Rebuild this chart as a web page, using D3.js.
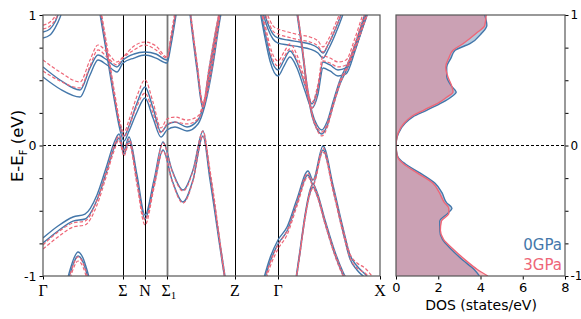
<!DOCTYPE html>
<html><head><meta charset="utf-8">
<script src="https://cdn.jsdelivr.net/npm/d3@7"></script>
<style>body{margin:0;background:#fff}</style>
</head><body>
<svg width="581" height="319"></svg>
<script>
// high-symmetry path
const kLabels = ["Γ", "Σ", "N", "Σ1", "Z", "Γ", "X"];
const kPos = [0, 0.80, 1.02, 1.24, 1.92, 2.35, 3.37];

// each row: [k, blue line 1, blue line 2, red line 1, red line 2]  (eV)
const band1 = [
  [0.00, 0.870, 0.824, 0.923, 0.893], [0.07, 0.893, 0.847, 0.946, 0.916],
  [0.12, 0.946, 0.900, 0.990, 0.960], [0.17, 1.040, 0.980, 1.077, 1.040],
  [0.21, 1.115, 1.077, 1.120, 1.100]
];
const band2 = [
  [0.00, 0.602, 0.525, 0.655, 0.571], [0.17, 0.502, 0.433, 0.563, 0.494],
  [0.37, 0.425, 0.372, 0.487, 0.441], [0.47, 0.594, 0.540, 0.655, 0.609],
  [0.55, 0.693, 0.655, 0.770, 0.732], [0.64, 0.655, 0.617, 0.716, 0.678],
  [0.74, 0.602, 0.563, 0.640, 0.617], [0.80, 0.655, 0.632, 0.678, 0.670],
  [0.91, 0.701, 0.670, 0.762, 0.732], [1.02, 0.716, 0.693, 0.793, 0.770],
  [1.13, 0.701, 0.670, 0.762, 0.732], [1.24, 0.655, 0.632, 0.678, 0.670],
  [1.28, 0.808, 0.770, 0.847, 0.808], [1.33, 1.040, 1.000, 1.077, 1.040]
];
const band3 = [
  [0.57, 1.038, 1.008, 1.077, 1.046], [0.60, 0.900, 0.870, 0.946, 0.908],
  [0.66, 0.625, 0.594, 0.670, 0.632], [0.72, 0.349, 0.318, 0.387, 0.349],
  [0.77, 0.149, 0.119, 0.180, 0.149], [0.81, 0.073, 0.034, 0.103, 0.065],
  [0.86, 0.149, 0.111, 0.195, 0.149], [0.94, 0.326, 0.257, 0.379, 0.303],
  [1.02, 0.448, 0.364, 0.502, 0.402], [1.10, 0.287, 0.211, 0.333, 0.249],
  [1.18, 0.103, 0.065, 0.134, 0.096], [1.24, 0.157, 0.119, 0.203, 0.165],
  [1.32, 0.180, 0.142, 0.218, 0.180], [1.44, 0.142, 0.111, 0.195, 0.165],
  [1.55, 0.195, 0.165, 0.226, 0.203], [1.62, 0.349, 0.310, 0.372, 0.333],
  [1.70, 0.655, 0.617, 0.678, 0.640], [1.76, 0.962, 0.923, 0.985, 0.946],
  [1.80, 1.115, 1.092, 1.138, 1.115]
];
const band4 = [
  [0.00, -0.709, -0.747, -0.762, -0.793], [0.15, -0.617, -0.655, -0.663, -0.701],
  [0.30, -0.548, -0.579, -0.594, -0.625], [0.42, -0.525, -0.563, -0.579, -0.609],
  [0.54, -0.379, -0.418, -0.418, -0.456], [0.64, -0.149, -0.188, -0.180, -0.218],
  [0.71, 0.019, -0.019, -0.004, -0.042], [0.76, 0.088, 0.057, 0.073, 0.042],
  [0.81, -0.034, -0.065, -0.050, -0.080], [0.86, 0.065, 0.034, 0.050, 0.019],
  [0.94, -0.226, -0.264, -0.264, -0.303], [1.02, -0.533, -0.563, -0.571, -0.609],
  [1.11, -0.264, -0.303, -0.287, -0.326], [1.20, 0.027, -0.034, 0.019, -0.042],
  [1.29, -0.188, -0.264, -0.195, -0.272], [1.40, -0.341, -0.433, -0.349, -0.441],
  [1.50, -0.188, -0.264, -0.195, -0.272], [1.60, 0.111, 0.073, 0.111, 0.073],
  [1.67, -0.226, -0.264, -0.188, -0.226], [1.82, -1.000, -1.031, -1.000, -1.031],
  [1.86, -1.184, -1.215, -1.184, -1.215]
];
const band5 = [
  [1.47, 1.038, 1.008, 1.054, 1.023], [1.54, 0.617, 0.579, 0.640, 0.602],
  [1.60, 0.310, 0.280, 0.326, 0.295], [1.66, 0.579, 0.540, 0.594, 0.563],
  [1.74, 0.923, 0.885, 0.939, 0.908], [1.78, 1.077, 1.038, 1.092, 1.061]
];
const band6 = [
  [0.23, -1.069, -1.100, -1.107, -1.138], [0.27, -0.954, -0.985, -0.992, -1.023],
  [0.31, -0.862, -0.893, -0.900, -0.931], [0.35, -0.816, -0.847, -0.854, -0.885],
  [0.40, -0.862, -0.893, -0.900, -0.931], [0.44, -0.954, -0.985, -0.992, -1.023],
  [0.48, -1.069, -1.100, -1.107, -1.138]
];
const band7 = [
  [2.19, -1.069, -1.100, -1.107, -1.138], [2.27, -0.862, -0.893, -0.900, -0.931],
  [2.35, -0.724, -0.755, -0.762, -0.793], [2.44, -0.625, -0.655, -0.655, -0.686],
  [2.54, -0.410, -0.441, -0.433, -0.464], [2.65, -0.195, -0.226, -0.211, -0.241],
  [2.70, -0.264, -0.295, -0.272, -0.303], [2.80, -0.004, -0.034, -0.019, -0.050],
  [2.90, -0.303, -0.333, -0.318, -0.349], [3.00, -0.632, -0.663, -0.640, -0.671],
  [3.07, -0.839, -0.870, -0.831, -0.862], [3.14, -0.923, -0.954, -0.900, -0.939],
  [3.22, -0.985, -1.015, -0.939, -0.977], [3.29, -1.046, -1.077, -1.000, -1.031]
];
const band8 = [
  [2.52, -1.069, -1.092, -1.077, -1.100], [2.57, -0.801, -0.824, -0.808, -0.831],
  [2.62, -0.533, -0.556, -0.540, -0.563], [2.67, -0.341, -0.364, -0.349, -0.372],
  [2.70, -0.295, -0.318, -0.303, -0.326], [2.74, -0.356, -0.379, -0.364, -0.387],
  [2.82, -0.571, -0.594, -0.579, -0.602], [2.92, -0.816, -0.839, -0.824, -0.847],
  [3.00, -0.969, -0.992, -0.977, -1.000], [3.07, -1.069, -1.092, -1.077, -1.100]
];
const band9 = [
  [2.19, 1.077, 1.038, 1.115, 1.077], [2.25, 0.931, 0.893, 0.992, 0.954],
  [2.30, 0.854, 0.816, 0.916, 0.877], [2.35, 0.824, 0.785, 0.893, 0.854],
  [2.45, 0.808, 0.770, 0.870, 0.831], [2.57, 0.793, 0.755, 0.847, 0.808],
  [2.67, 0.778, 0.739, 0.831, 0.793], [2.75, 0.747, 0.709, 0.801, 0.762],
  [2.80, 0.709, 0.670, 0.755, 0.716], [2.85, 0.770, 0.732, 0.808, 0.770],
  [2.92, 0.885, 0.847, 0.923, 0.885], [2.99, 1.023, 0.985, 1.061, 1.023],
  [3.03, 1.115, 1.077, 1.153, 1.115]
];
const band10 = [
  [2.17, 1.077, 1.031, 1.115, 1.077], [2.22, 0.870, 0.824, 0.931, 0.893],
  [2.27, 0.693, 0.648, 0.762, 0.724], [2.35, 0.579, 0.533, 0.648, 0.609],
  [2.41, 0.655, 0.609, 0.716, 0.678], [2.47, 0.724, 0.678, 0.778, 0.740],
  [2.54, 0.640, 0.594, 0.693, 0.655], [2.62, 0.464, 0.418, 0.502, 0.464],
  [2.69, 0.318, 0.287, 0.333, 0.287], [2.75, 0.441, 0.395, 0.471, 0.433],
  [2.80, 0.640, 0.594, 0.686, 0.648], [2.87, 0.617, 0.571, 0.670, 0.632],
  [2.95, 0.579, 0.533, 0.640, 0.602], [3.03, 0.594, 0.548, 0.655, 0.617],
  [3.12, 0.770, 0.724, 0.824, 0.785], [3.20, 0.962, 0.916, 1.008, 0.969],
  [3.25, 1.077, 1.031, 1.115, 1.077]
];
const band11 = [
  [2.54, 1.038, 1.008, 1.023, 1.046], [2.59, 0.770, 0.739, 0.755, 0.778],
  [2.64, 0.464, 0.433, 0.441, 0.464], [2.69, 0.257, 0.226, 0.234, 0.249],
  [2.74, 0.157, 0.126, 0.119, 0.142], [2.79, 0.119, 0.088, 0.073, 0.103],
  [2.84, 0.180, 0.149, 0.134, 0.165], [2.90, 0.333, 0.303, 0.295, 0.318],
  [2.97, 0.502, 0.471, 0.471, 0.494], [3.05, 0.632, 0.602, 0.602, 0.625],
  [3.13, 0.785, 0.755, 0.755, 0.778], [3.21, 0.962, 0.931, 0.931, 0.954],
  [3.27, 1.092, 1.061, 1.061, 1.084]
];
const bands = [band1, band2, band3, band4, band5, band6, band7, band8, band9, band10, band11];

// density of states (states/eV)
const dosE = [-1.0, -0.95, -0.88, -0.80, -0.72, -0.65, -0.58, -0.52, -0.48, -0.44, -0.36, -0.29,
  -0.21, -0.14, -0.09, -0.04, 0, 0.04, 0.095, 0.17, 0.22, 0.27, 0.33, 0.37, 0.41, 0.45,
  0.53, 0.60, 0.67, 0.73, 0.78, 0.86, 0.92, 1.0];
const dos0 = [3.95, 3.7, 3.17, 2.65, 2.2, 2.07, 2.07, 2.45, 2.65, 2.4, 2.17, 1.85,
  1.13, 0.43, 0.1, 0.02, 0.0, 0.02, 0.12, 0.43, 0.8, 1.45, 2.2, 2.6, 2.85, 2.65,
  2.4, 2.4, 2.6, 2.8, 3.5, 4.05, 4.3, 4.2];
const dos3 = [4.35, 3.85, 3.3, 2.75, 2.25, 2.1, 2.15, 2.5, 2.5, 2.3, 2.05, 1.75,
  1.0, 0.35, 0.08, 0.02, 0.0, 0.02, 0.1, 0.38, 0.72, 1.3, 2.05, 2.4, 2.7, 2.65,
  2.45, 2.35, 2.5, 2.7, 3.17, 3.8, 4.2, 4.27];
const dosTicks = [0, 2, 4, 6, 8];
const seriesNames = ["0GPa", "3GPa"];

const blue = "#4477aa", red = "#ee6677";
const svg = d3.select("svg");
const font = "DejaVu Sans, sans-serif";

const x = d3.scaleLinear().domain([0, 3.37]).range([43, 380]);
const y = d3.scaleLinear().domain([-1, 1]).range([276, 15]);
const xd = d3.scaleLinear().domain([0, 8]).range([396, 565]);
const yTicks = d3.range(-1, 1.01, 0.25);
const fmtY = d => Number.isInteger(d) ? String(d) : "";

svg.append("clipPath").attr("id", "cb").append("rect")
  .attr("x", 43).attr("y", 15).attr("width", 337).attr("height", 261);
svg.append("clipPath").attr("id", "cd").append("rect")
  .attr("x", 396).attr("y", 15).attr("width", 169).attr("height", 261);

// ---- band panel ----
const gb = svg.append("g").attr("clip-path", "url(#cb)");
kPos.slice(1, -1).forEach((k, i) => {
  gb.append("line").attr("x1", x(k) + 0.5).attr("x2", x(k) + 0.5).attr("y1", 15).attr("y2", 276)
    .attr("stroke", i === 2 ? "#777" : "#000").attr("stroke-width", i === 2 ? 1.8 : 1);
});

const line = i => d3.line().x(d => x(d[0])).y(d => y(d[i])).curve(d3.curveMonotoneX);
bands.forEach(b => {
  [1, 2].forEach(i => gb.append("path").attr("d", line(i)(b))
    .attr("fill", "none").attr("stroke", blue).attr("stroke-width", 1.4));
});
bands.forEach(b => {
  [3, 4].forEach(i => gb.append("path").attr("d", line(i)(b))
    .attr("fill", "none").attr("stroke", red).attr("stroke-width", 1.2)
    .attr("stroke-dasharray", "3.5,2"));
});

gb.append("line").attr("x1", 43).attr("x2", 380).attr("y1", y(0)).attr("y2", y(0))
  .attr("stroke", "#000").attr("stroke-width", 1).attr("stroke-dasharray", "3,2");

svg.append("g").attr("transform", "translate(43,0)")
  .call(d3.axisLeft(y).tickValues(yTicks).tickFormat(fmtY).tickSize(3.5).tickPadding(3))
  .call(g => g.select(".domain").remove())
  .call(g => g.selectAll("text").attr("font-family", font).attr("font-size", 12.5).attr("fill", "#000"));

svg.append("g").attr("transform", "translate(0,276)")
  .call(d3.axisBottom(x).tickValues(kPos).tickFormat("").tickSize(3.5))
  .call(g => g.select(".domain").remove());

kLabels.forEach((lab, i) => {
  const t = svg.append("text").attr("x", x(kPos[i])).attr("y", 296)
    .attr("text-anchor", "middle").attr("font-family", "Liberation Serif, serif")
    .attr("font-size", 16);
  if (lab === "Σ1") {
    t.attr("text-anchor", "start").attr("x", x(kPos[i]) - 5.5);
    t.append("tspan").text("Σ");
    t.append("tspan").attr("font-size", 11).attr("dy", 3).text("1");
  } else t.text(lab);
});

svg.append("rect").attr("x", 43).attr("y", 15).attr("width", 337).attr("height", 261)
  .attr("fill", "none").attr("stroke", "#555").attr("stroke-width", 1.2);

const yl = svg.append("text").attr("transform", "translate(23,146) rotate(-90)")
  .attr("text-anchor", "middle").attr("font-family", font).attr("font-size", 16.5);
yl.append("tspan").text("E-E");
yl.append("tspan").attr("font-size", 10).attr("dy", 4).text("F");
yl.append("tspan").attr("dy", -4).text(" (eV)");

// ---- DOS panel ----
const gd = svg.append("g").attr("clip-path", "url(#cd)");
const pts0 = dosE.map((e, i) => [e, dos0[i]]);
const pts3 = dosE.map((e, i) => [e, dos3[i]]);
const area = d3.area().y(d => y(d[0])).x0(xd(0)).x1(d => xd(d[1])).curve(d3.curveMonotoneY);
const dline = d3.line().y(d => y(d[0])).x(d => xd(d[1])).curve(d3.curveMonotoneY);

gd.append("path").attr("d", area(pts0)).attr("fill", blue).attr("fill-opacity", 0.4);
gd.append("path").attr("d", area(pts3)).attr("fill", red).attr("fill-opacity", 0.4);
gd.append("path").attr("d", dline(pts0)).attr("fill", "none").attr("stroke", blue).attr("stroke-width", 1.4);
gd.append("path").attr("d", dline(pts3)).attr("fill", "none").attr("stroke", red).attr("stroke-width", 1.4);
gd.append("line").attr("x1", 396).attr("x2", 565).attr("y1", y(0)).attr("y2", y(0))
  .attr("stroke", "#000").attr("stroke-width", 1).attr("stroke-dasharray", "3,2");

svg.append("g").attr("transform", "translate(565,0)")
  .call(d3.axisRight(y).tickValues(yTicks).tickFormat(fmtY).tickSize(3.5).tickPadding(2))
  .call(g => g.select(".domain").remove())
  .call(g => g.selectAll("text").attr("font-family", font).attr("font-size", 12).attr("fill", "#000"));

svg.append("g").attr("transform", "translate(0,276)")
  .call(d3.axisBottom(xd).tickValues(dosTicks).tickFormat(d3.format("d")).tickSize(3.5).tickPadding(3))
  .call(g => g.select(".domain").remove())
  .call(g => g.selectAll("text").attr("font-family", font).attr("font-size", 13).attr("fill", "#000"));

svg.append("rect").attr("x", 396).attr("y", 15).attr("width", 169).attr("height", 261)
  .attr("fill", "none").attr("stroke", "#555").attr("stroke-width", 1.2);

svg.append("text").attr("x", 481).attr("y", 310).attr("text-anchor", "middle")
  .attr("font-family", font).attr("font-size", 14).text("DOS (states/eV)");

[blue, red].forEach((c, i) => {
  svg.append("text").attr("x", 562).attr("y", 250 + i * 20).attr("text-anchor", "end")
    .attr("font-family", font).attr("font-size", 15).attr("fill", c).text(seriesNames[i]);
});
</script>
</body></html>
